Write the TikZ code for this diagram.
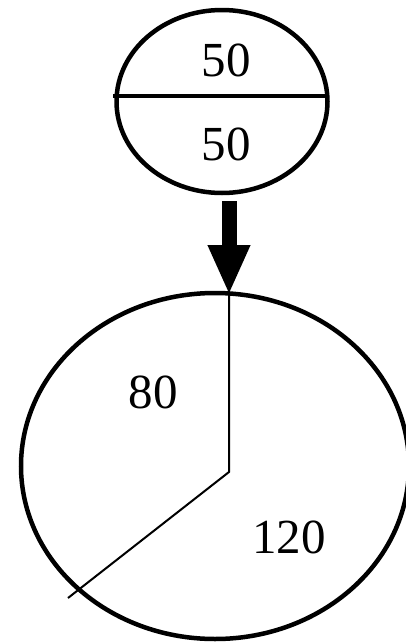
\documentclass[tikz,border=0pt]{standalone}
\usepackage{fontspec}
\setmainfont{Liberation Serif}
\usepackage{tikz}
\usetikzlibrary{arrows.meta, shapes.geometric}

\begin{document}
\begin{tikzpicture}[x=1pt, y=-1pt,
    rim/.style={draw, ellipse, line width=4.5pt, inner sep=0pt},
    val/.style={inner sep=0pt, font=\fontsize{49}{52}\selectfont}]
  \useasboundingbox (0,0) rectangle (406,643);

  % Split ellipse on top
  \node[rim, minimum width=211pt, minimum height=183pt] (part) at (222,101.5) {};
  \draw[line width=4pt] (113,96) -- (327,96);
  \node[val] (upper) at (226,60) {50};
  \node[val] (lower) at (226,144) {50};

  % Big ellipse below
  \node[rim, minimum width=388pt, minimum height=346pt] (whole) at (215,466) {};
  \coordinate (tail) at (229,201);
  \coordinate (hub) at (229,295);
  \coordinate (mid) at (229,472);
  \coordinate (edge) at (68,598);
  \node[val] (left) at (153,392) {80};
  \node[val] (right) at (289,537) {120};

  % Arrow and split lines
  \draw[line width=15pt, -{Triangle[length=50pt, width=39pt]}] (tail) -- (hub);
  \draw[line width=2pt] (hub) -- (mid) -- (edge);
\end{tikzpicture}
\end{document}
